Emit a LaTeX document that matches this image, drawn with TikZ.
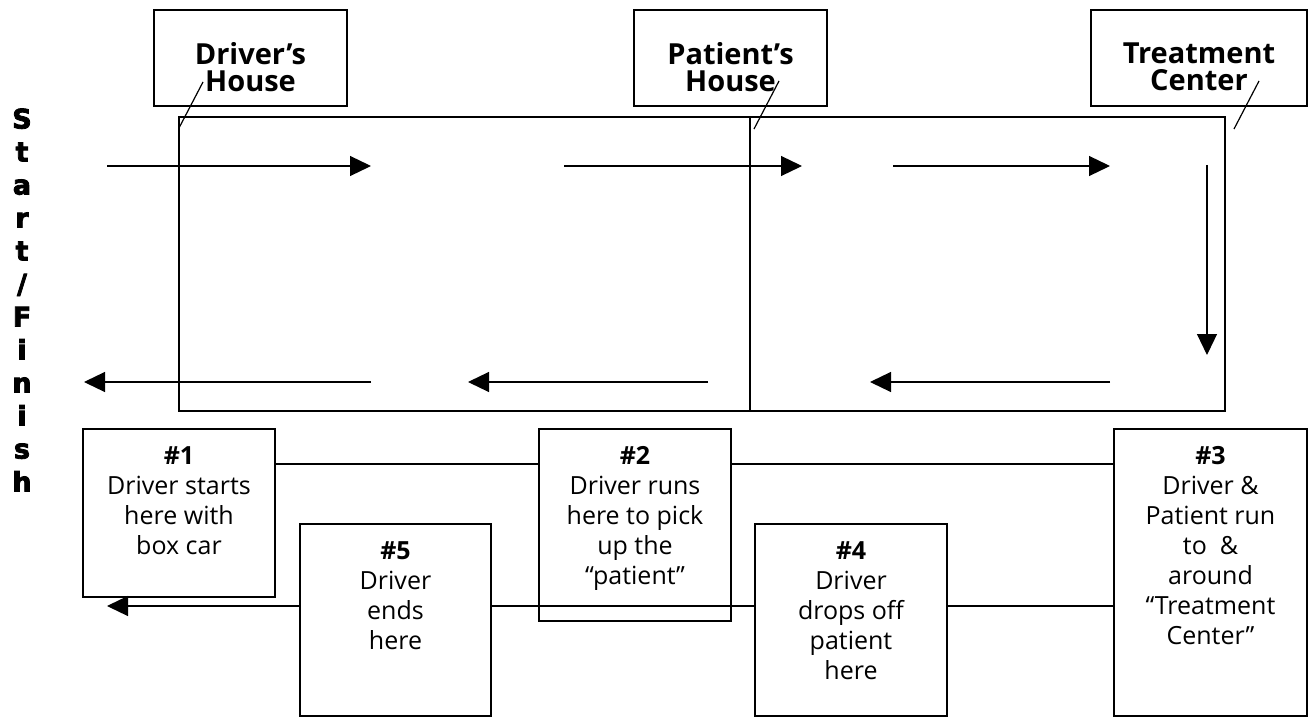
\documentclass[tikz,border=0pt]{standalone}
\usepackage{fontspec}
\setmainfont{Open Sans}
\newfontfamily\heavyfont[FakeBold=3]{DejaVu Sans Bold}
\usetikzlibrary{arrows.meta}

\begin{document}
\begin{tikzpicture}[x=0.5pt, y=-0.5pt,
    place/.style={draw, line width=1pt, inner sep=0pt},
    heading/.style={align=center, inner sep=0pt, anchor=north, font=\fontsize{14.5}{13.5}\selectfont\bfseries},
    caption/.style={align=center, inner sep=0pt, anchor=north, font=\fontsize{12.5}{15}\selectfont},
    route/.style={line width=0.6pt, -{Triangle[length=10.5pt, width=10pt]}},
    leader/.style={line width=0.6pt},
    link/.style={line width=0.7pt}]

    \useasboundingbox (0,0) rectangle (1313,717);

    % places along the top
    \node [place, minimum width=96.5pt, minimum height=48pt] (dh) at (250.5, 58) {};
    \node [place, minimum width=96.5pt, minimum height=48pt] (ph) at (730.5, 58) {};
    \node [place, minimum width=108pt, minimum height=48pt] (tc) at (1199, 58) {};
    \node [heading] (dht) at ([yshift=-16.5pt]dh.north) {Driver’s\\House};
    \node [heading] (pht) at ([yshift=-16.5pt]ph.north) {Patient’s\\House};
    \node [heading] (tct) at ([yshift=-16.5pt]tc.north) {Treatment\\Center};

    \coordinate (dh1) at (203, 82);
    \coordinate (dh2) at (179, 128);
    \coordinate (ph1) at (779, 81);
    \coordinate (ph2) at (754, 129);
    \coordinate (tc1) at (1259, 81);
    \coordinate (tc2) at (1234, 129);
    \draw [leader] (dh1) -- (dh2);
    \draw [leader] (ph1) -- (ph2);
    \draw [leader] (tc1) -- (tc2);

    % the track
    \draw [line width=1pt] (179, 117) rectangle (1225, 411);
    \draw [line width=1pt] (750, 117) -- (750, 411);

    \node [inner sep=0pt, align=center, font=\heavyfont\fontsize{13.5}{16.5}\selectfont] (sf) at (22, 300)
        {S\\t\\a\\r\\t\\/\\F\\i\\n\\i\\s\\h};

    \coordinate (r1) at (107, 166);
    \coordinate (r2) at (371, 166);
    \coordinate (r3) at (564, 166);
    \coordinate (r4) at (802, 166);
    \coordinate (r5) at (893, 166);
    \coordinate (r6) at (1110, 166);
    \coordinate (r7) at (1207, 165);
    \coordinate (r8) at (1207, 355);
    \coordinate (r9) at (1110, 382);
    \coordinate (r10) at (870, 382);
    \coordinate (r11) at (708, 382);
    \coordinate (r12) at (468, 382);
    \coordinate (r13) at (371, 382);
    \coordinate (r14) at (84, 382);

    \draw [route] (r1) -- (r2);
    \draw [route] (r3) -- (r4);
    \draw [route] (r5) -- (r6);
    \draw [route] (r7) -- (r8);
    \draw [route] (r9) -- (r10);
    \draw [route] (r11) -- (r12);
    \draw [route] (r13) -- (r14);

    % the steps
    \node [place, minimum width=96pt, minimum height=84pt] (s1) at (179, 513) {};
    \node [place, minimum width=96pt, minimum height=96pt] (s2) at (635, 525) {};
    \node [place, minimum width=96.5pt, minimum height=143.5pt] (s3) at (1210.5, 572.5) {};
    \node [place, minimum width=96pt, minimum height=96pt] (s4) at (851, 620) {};
    \node [place, minimum width=95.5pt, minimum height=96pt] (s5) at (395.5, 620) {};

    \node [caption] (s1t) at ([yshift=-9pt]s1.north) {\textbf{\#1}\\Driver starts\\here with\\box car};
    \node [caption] (s2t) at ([yshift=-9pt]s2.north) {\textbf{\#2}\\Driver runs\\here to pick\\up the\\“patient”};
    \node [caption] (s3t) at ([yshift=-9pt]s3.north) {\textbf{\#3}\\Driver \&\\Patient run\\to\ \ \&\\around\\“Treatment\\Center”};
    \node [caption] (s4t) at ([yshift=-9pt]s4.north) {\textbf{\#4}\\Driver\\drops off\\patient\\here};
    \node [caption] (s5t) at ([yshift=-9pt]s5.north) {\textbf{\#5}\\Driver\\ends\\here};

    \coordinate (u) at (0, 464);
    \coordinate (l) at (0, 606);
    \coordinate (fin) at (107, 606);

    \draw [link] (s1.east |- u) -- (s2.west |- u);
    \draw [link] (s2.east |- u) -- (s3.west |- u);
    \draw [link] (s3.west |- l) -- (s4.east |- l);
    \draw [link] (s4.west |- l) -- (s5.east |- l);
    \draw [route] (s5.west |- l) -- (fin);

\end{tikzpicture}
\end{document}
